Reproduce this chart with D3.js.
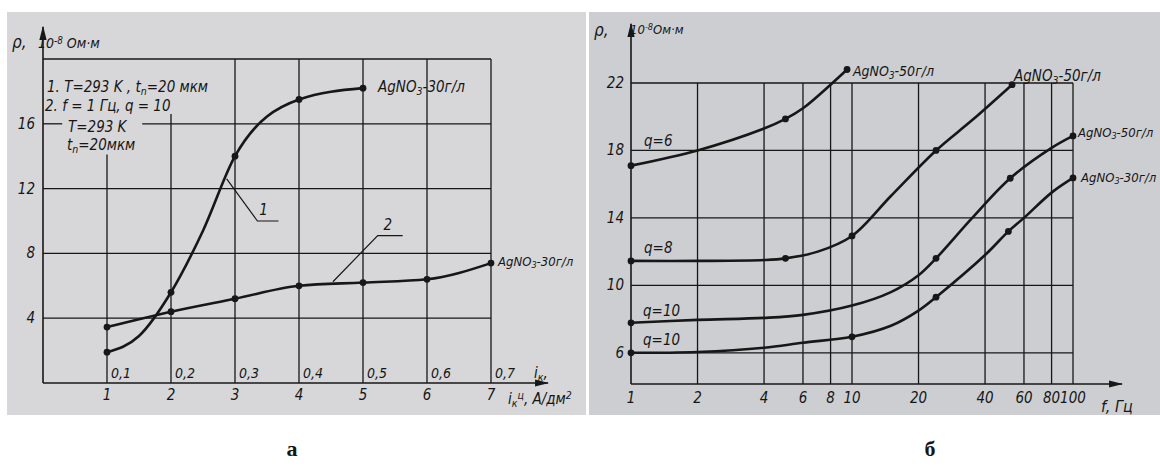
<!DOCTYPE html>
<html>
<head>
<meta charset="utf-8">
<script src="https://cdn.jsdelivr.net/npm/d3@7"></script>
<style>
  body { margin: 0; background: #fff; }
  svg text { font-family: "Liberation Sans Narrow", "DejaVu Sans Condensed", "DejaVu Sans", sans-serif; font-style: italic; fill: #161616; }
  .cap { font-family: "Liberation Serif", "DejaVu Serif", serif; font-style: normal; font-weight: bold; }
</style>
</head>
<body>
<svg id="chart" width="1160" height="467"></svg>
<script>
// ---- panel a : rho vs current density ----
var aTicksX = [1, 2, 3, 4, 5, 6, 7];
var aTicksX2 = ["0,1", "0,2", "0,3", "0,4", "0,5", "0,6", "0,7"];
var aTicksY = [4, 8, 12, 16];
var aCurve1X = [1, 1.5, 2, 2.5, 3, 4, 5];
var aCurve1Y = [1.9, 2.9, 5.6, 9.4, 14.0, 17.5, 18.2];
var aCurve1Dots = [1, 2, 3, 4, 5];
var aCurve2X = [1, 2, 3, 4, 5, 6, 7];
var aCurve2Y = [3.45, 4.4, 5.2, 6.0, 6.2, 6.4, 7.4];
var aCurve2Dots = [1, 2, 3, 4, 5, 6, 7];

// ---- panel б : rho vs frequency ----
var bTicksX = [1, 2, 4, 6, 8, 10, 20, 40, 60, 80, 100];
var bTicksY = [6, 10, 14, 18, 22];
// q=6
var bAF = [1, 2, 4, 5, 6, 8, 9.5];
var bARho = [17.1, 18.0, 19.3, 19.87, 20.5, 21.9, 22.8];
var bADots = [1, 5, 9.5];
// q=8
var bBF = [1, 2, 4, 5, 7, 10, 15, 24, 35, 53];
var bBRho = [11.45, 11.45, 11.5, 11.6, 12.0, 12.93, 15.3, 18.0, 19.8, 21.9];
var bBDots = [1, 5, 10, 24, 53];
// q=10, 50 g/l
var bCF = [1, 2, 4, 6, 10, 15, 20, 24, 35, 52, 80, 100];
var bCRho = [7.78, 7.95, 8.07, 8.25, 8.8, 9.6, 10.6, 11.6, 14.0, 16.35, 18.15, 18.86];
var bCDots = [1, 24, 52, 100];
// q=10, 30 g/l
var bDF = [1, 2, 4, 6, 10, 15, 20, 24, 40, 51, 60, 80, 100];
var bDRho = [6.0, 6.05, 6.3, 6.6, 6.95, 7.6, 8.5, 9.3, 11.8, 13.2, 14.0, 15.5, 16.37];
var bDDots = [1, 10, 24, 51, 100];

var ink = "#171717";
var svg = d3.select("#chart");

var defs = svg.append("defs");
defs.append("marker").attr("id", "arr")
    .attr("viewBox", "0 0 10 10").attr("refX", 9).attr("refY", 5)
    .attr("markerWidth", 9).attr("markerHeight", 9).attr("orient", "auto")
    .append("path").attr("d", "M0,2.5L10,5L0,7.5Z").attr("fill", ink);

// photo backgrounds
svg.append("rect").attr("x", 7).attr("y", 12).attr("width", 579).attr("height", 403).attr("fill", "#d7d7d9");
svg.append("rect").attr("x", 589).attr("y", 12).attr("width", 571).attr("height", 403).attr("fill", "#cdced1");

// text with sub/sup parts: parts = [[text, "sub"|"sup"|null], ...]
function label(g, x, y, parts, size) {
    var t = g.append("text").attr("x", x).attr("y", y).style("font-size", size + "px");
    parts.forEach(function (p) {
        var s = t.append("tspan").text(p[0]);
        if (p[1]) {
            s.attr("baseline-shift", p[1] == "sub" ? "-25%" : "45%").style("font-size", (size * 0.7) + "px");
        }
    });
    return t;
}

function hline(g, x1, x2, y, w) {
    g.append("line").attr("x1", x1).attr("x2", x2).attr("y1", y).attr("y2", y)
        .attr("stroke", ink).attr("stroke-width", w || 1.3);
}
function vline(g, x, y1, y2, w) {
    g.append("line").attr("x1", x).attr("x2", x).attr("y1", y1).attr("y2", y2)
        .attr("stroke", ink).attr("stroke-width", w || 1.3);
}

// ================= panel a =================
var ga = svg.append("g");
var xa = d3.scaleLinear().domain([0, 7]).range([43, 491]);
var ya = d3.scaleLinear().domain([0, 20]).range([383, 59]);

// horizontal grid
aTicksY.concat([20]).forEach(function (v) {
    if (v == 16) {
        hline(ga, xa(0), xa(0.3), ya(v));
        hline(ga, xa(1.55), xa(7), ya(v));
    } else {
        hline(ga, xa(0), xa(7), ya(v));
    }
});
// vertical grid
aTicksX.forEach(function (v) {
    var top = 20;
    if (v == 1) top = 14.1;
    if (v == 2) top = 16.6;
    vline(ga, xa(v), ya(0), ya(top));
});
// axes
ga.append("line").attr("x1", xa(0)).attr("x2", xa(0)).attr("y1", ya(0)).attr("y2", 27)
    .attr("stroke", ink).attr("stroke-width", 1.6).attr("marker-end", "url(#arr)");
ga.append("line").attr("x1", xa(0)).attr("x2", 548).attr("y1", ya(0)).attr("y2", ya(0))
    .attr("stroke", ink).attr("stroke-width", 1.6).attr("marker-end", "url(#arr)");

// tick labels
ga.selectAll(".yt").data(aTicksY).enter().append("text")
    .attr("x", xa(0) - 8).attr("y", function (d) { return ya(d) + 5; })
    .attr("text-anchor", "end").style("font-size", "15px").text(function (d) { return d; });
ga.selectAll(".xt").data(aTicksX).enter().append("text")
    .attr("x", function (d) { return xa(d); }).attr("y", ya(0) + 17)
    .attr("text-anchor", "middle").style("font-size", "15px").text(function (d) { return d; });
ga.selectAll(".xt2").data(aTicksX).enter().append("text")
    .attr("x", function (d) { return xa(d) + 4; }).attr("y", ya(0) - 5)
    .style("font-size", "14px").text(function (d, i) { return aTicksX2[i]; });

// axis titles
label(ga, 12, 48, [["ρ,", null]], 17);
label(ga, 38, 48, [["10", null], ["-8", "sup"], [" Ом·м", null]], 14);
label(ga, 534, 378, [["i", null], ["к", "sub"], [",", null]], 15);
label(ga, 508, 404, [["i", null], ["к", "sub"], ["ц", "sup"], [", А/дм", null], ["2", "sup"]], 15);

// legend block
label(ga, 47, 92, [["1.  T=293 K ,  t", null], ["n", "sub"], ["=20 мкм", null]], 15);
label(ga, 45, 111, [["2.  f = 1 Гц,  q = 10", null]], 15);
label(ga, 68, 132, [["T=293 K", null]], 15);
label(ga, 67, 150, [["t", null], ["n", "sub"], ["=20мкм", null]], 15);

var lineA = d3.line().x(function (d) { return xa(d[0]); }).y(function (d) { return ya(d[1]); })
    .curve(d3.curveMonotoneX);

[[aCurve1X, aCurve1Y, aCurve1Dots], [aCurve2X, aCurve2Y, aCurve2Dots]].forEach(function (c) {
    var pts = c[0].map(function (x, i) { return [x, c[1][i]]; });
    ga.append("path").attr("d", lineA(pts)).attr("fill", "none")
        .attr("stroke", ink).attr("stroke-width", 2.6);
    var dots = pts.filter(function (p) { return c[2].indexOf(p[0]) >= 0; });
    ga.selectAll(null).data(dots).enter().append("circle")
        .attr("cx", function (d) { return xa(d[0]); }).attr("cy", function (d) { return ya(d[1]); })
        .attr("r", 3.4).attr("fill", ink);
});

label(ga, 378, 92, [["AgNO", null], ["3", "sub"], ["-30г/л", null]], 15);
label(ga, 498, 266, [["AgNO", null], ["3", "sub"], ["-30г/л", null]], 13);

// callouts 1 and 2
ga.append("path").attr("fill", "none").attr("stroke", ink).attr("stroke-width", 1.2)
    .attr("d", d3.line()([[xa(2.87), ya(12.6)], [xa(3.35), ya(10.0)], [xa(3.68), ya(10.0)]]));
label(ga, xa(3.38), ya(10.35), [["1", null]], 15);
ga.append("path").attr("fill", "none").attr("stroke", ink).attr("stroke-width", 1.2)
    .attr("d", d3.line()([[xa(4.53), ya(6.25)], [xa(5.23), ya(9.1)], [xa(5.62), ya(9.1)]]));
label(ga, xa(5.32), ya(9.45), [["2", null]], 15);

// ================= panel б =================
var gb = svg.append("g");
var xb = d3.scaleLog().domain([1, 100]).range([631, 1073]);
var yb = d3.scaleLinear().domain([4.15, 22]).range([384, 83]);

bTicksY.forEach(function (v) { hline(gb, xb(1), xb(100), yb(v)); });
bTicksX.slice(1).forEach(function (v) { vline(gb, xb(v), yb(4.15), yb(22)); });

gb.append("line").attr("x1", xb(1)).attr("x2", xb(1)).attr("y1", yb(4.15)).attr("y2", 24)
    .attr("stroke", ink).attr("stroke-width", 1.6).attr("marker-end", "url(#arr)");
gb.append("line").attr("x1", xb(1)).attr("x2", 1122).attr("y1", yb(4.15)).attr("y2", yb(4.15))
    .attr("stroke", ink).attr("stroke-width", 1.6).attr("marker-end", "url(#arr)");

gb.selectAll(".yt").data(bTicksY).enter().append("text")
    .attr("x", xb(1) - 7).attr("y", function (d) { return yb(d) + 5; })
    .attr("text-anchor", "end").style("font-size", "15px").text(function (d) { return d; });
gb.selectAll(".xt").data(bTicksX).enter().append("text")
    .attr("x", function (d) { return xb(d); }).attr("y", yb(4.15) + 19)
    .attr("text-anchor", "middle").style("font-size", "15px").text(function (d) { return d; });

label(gb, 594, 36, [["ρ,", null]], 17);
label(gb, 630, 34, [["10", null], ["-8", "sup"], ["Ом·м", null]], 13);
label(gb, 1101, 412, [["f, Гц", null]], 16);

var lineB = d3.line().x(function (d) { return xb(d[0]); }).y(function (d) { return yb(d[1]); })
    .curve(d3.curveCatmullRom.alpha(0.5));

[[bAF, bARho, bADots], [bBF, bBRho, bBDots], [bCF, bCRho, bCDots], [bDF, bDRho, bDDots]].forEach(function (c) {
    var pts = c[0].map(function (f, i) { return [f, c[1][i]]; });
    gb.append("path").attr("d", lineB(pts)).attr("fill", "none")
        .attr("stroke", ink).attr("stroke-width", 2.6);
    var dots = pts.filter(function (p) { return c[2].indexOf(p[0]) >= 0; });
    gb.selectAll(null).data(dots).enter().append("circle")
        .attr("cx", function (d) { return xb(d[0]); }).attr("cy", function (d) { return yb(d[1]); })
        .attr("r", 3.4).attr("fill", ink);
});

label(gb, 644, 146, [["q=6", null]], 15);
label(gb, 644, 253, [["q=8", null]], 15);
label(gb, 643, 316, [["q=10", null]], 15);
label(gb, 643, 345, [["q=10", null]], 15);

label(gb, 853, 76, [["AgNO", null], ["3", "sub"], ["-50г/л", null]], 14);
label(gb, 1014, 81, [["AgNO", null], ["3", "sub"], ["-50г/л", null]], 15);
label(gb, 1078, 137, [["AgNO", null], ["3", "sub"], ["-50г/л", null]], 13);
label(gb, 1081, 182, [["AgNO", null], ["3", "sub"], ["-30г/л", null]], 13);

// captions
svg.append("text").attr("class", "cap").attr("x", 292).attr("y", 456)
    .attr("text-anchor", "middle").style("font-size", "22px").text("а");
svg.append("text").attr("class", "cap").attr("x", 930).attr("y", 456)
    .attr("text-anchor", "middle").style("font-size", "22px").text("б");
</script>
</body>
</html>
